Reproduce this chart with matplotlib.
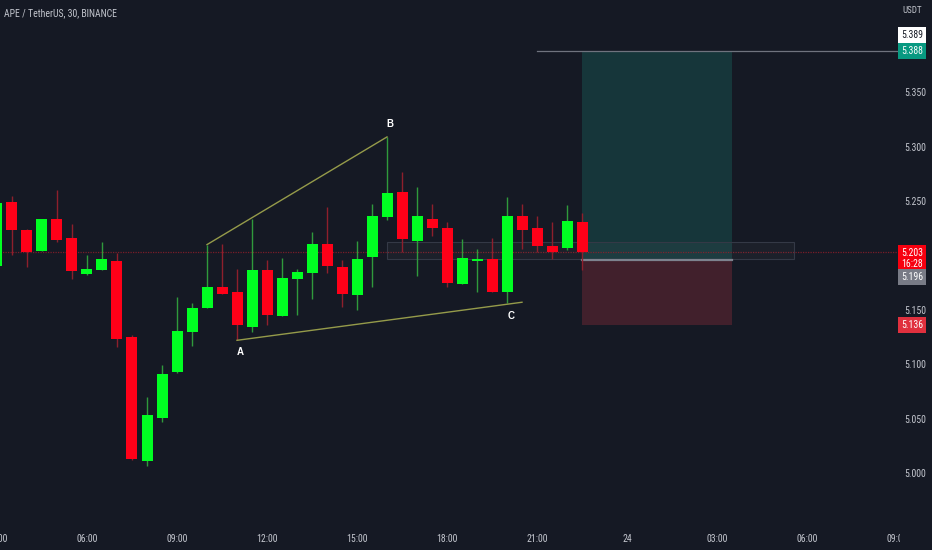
import matplotlib
matplotlib.use('Agg')
import os
import matplotlib.pyplot as plt
from matplotlib import font_manager as fm
from matplotlib.patches import Rectangle
from matplotlib.transforms import blended_transform_factory, Bbox

# ---------------- data ----------------
times = ['03:00', '03:30', '04:00', '04:30', '05:00', '05:30', '06:00', '06:30',
         '07:00', '07:30', '08:00', '08:30', '09:00', '09:30', '10:00', '10:30',
         '11:00', '11:30', '12:00', '12:30', '13:00', '13:30', '14:00', '14:30',
         '15:00', '15:30', '16:00', '16:30', '17:00', '17:30', '18:00', '18:30',
         '19:00', '19:30', '20:00', '20:30', '21:00', '21:30', '22:00', '22:30']
opens = [5.190, 5.249, 5.223, 5.204, 5.234, 5.216, 5.183, 5.187, 5.195, 5.125,
         5.011, 5.051, 5.093, 5.130, 5.152, 5.171, 5.166, 5.134, 5.187, 5.144,
         5.178, 5.184, 5.211, 5.189, 5.164, 5.199, 5.235, 5.258, 5.213, 5.234,
         5.225, 5.174, 5.195, 5.197, 5.166, 5.236, 5.225, 5.209, 5.207, 5.231]
highs = [5.251, 5.255, 5.224, 5.234, 5.260, 5.229, 5.200, 5.212, 5.202, 5.127,
         5.070, 5.099, 5.162, 5.156, 5.210, 5.211, 5.188, 5.234, 5.196, 5.198,
         5.188, 5.222, 5.245, 5.196, 5.213, 5.247, 5.309, 5.277, 5.263, 5.247,
         5.231, 5.215, 5.206, 5.216, 5.254, 5.247, 5.236, 5.231, 5.246, 5.239]
lows = [5.187, 5.200, 5.189, 5.204, 5.212, 5.178, 5.182, 5.187, 5.116, 5.012,
        5.006, 5.047, 5.092, 5.117, 5.152, 5.165, 5.122, 5.130, 5.136, 5.144,
        5.145, 5.160, 5.184, 5.153, 5.150, 5.171, 5.233, 5.203, 5.181, 5.218,
        5.171, 5.174, 5.166, 5.166, 5.156, 5.206, 5.203, 5.197, 5.205, 5.187]
closes = [5.248, 5.223, 5.203, 5.234, 5.214, 5.186, 5.188, 5.197, 5.123, 5.013,
          5.053, 5.091, 5.131, 5.152, 5.171, 5.165, 5.136, 5.187, 5.145, 5.179,
          5.185, 5.211, 5.190, 5.165, 5.197, 5.236, 5.257, 5.215, 5.236, 5.225,
          5.175, 5.198, 5.197, 5.166, 5.236, 5.223, 5.209, 5.203, 5.232, 5.203]

price_ticks = [5.000, 5.050, 5.100, 5.150, 5.200, 5.250, 5.300, 5.350]
price_tick_labels = ['5.000', '5.050', '5.100', '5.150', '', '5.250', '5.300', '5.350']
time_tick_hours = [3, 6, 9, 12, 15, 18, 21, 24, 27, 30, 33]
time_tick_labels = ['03:00', '06:00', '09:00', '12:00', '15:00', '18:00', '21:00',
                    '24', '03:00', '06:00', '09:00']

# pattern (hours, price)
upper_line_t = [10.0, 16.0]
upper_line_p = [5.210, 5.309]
lower_line_t = [11.0, 20.5]
lower_line_p = [5.122, 5.157]
point_labels = ['A', 'B', 'C']
point_label_t = [11.1, 16.1, 20.13]
point_label_p = [5.111, 5.321, 5.144]

# position tool
pos_start, pos_end = 22.5, 27.5
target_price = 5.388
entry_price = 5.196
stop_price = 5.136
last_price = 5.203
zone_t = [16.0, 29.55]
zone_p = [5.197, 5.212]
target_line_start = 21.0

# ---------------- fonts ----------------
def pick_condensed():
    prefs = ['LiberationSansNarrow-Regular', 'RobotoCondensed-Regular',
             'DejaVuSansCondensed.', 'NotoSans-Condensed.', 'OpenSans-CondensedRegular',
             'OpenSans_Condensed-Regular']
    files = [f.fname for f in fm.fontManager.ttflist]
    for p in prefs:
        for f in files:
            if p.lower() in os.path.basename(f).lower():
                return f
    return None


cond_file = pick_condensed()
if cond_file:
    def FP(size, bold=False):
        return fm.FontProperties(fname=cond_file, size=size)
    SZ = 7.0
else:
    def FP(size, bold=False):
        return fm.FontProperties(family=['Liberation Sans', 'DejaVu Sans'], size=size * 0.9,
                                 weight='bold' if bold else 'normal')
    SZ = 7.0

# ---------------- style ----------------
BG = '#151924'
TXT = '#c3c6ce'
UP = '#00ff22'
DOWN = '#ff0018'
UP_WICK = '#2f9a3c'
DOWN_WICK = '#8e1f2c'

W, H, DPI = 932, 550, 100
fig = plt.figure(figsize=(W / DPI, H / DPI), dpi=DPI, facecolor=BG)
ax_w_px, ax_h_px = 885, 522
ax = fig.add_axes([0, (H - ax_h_px) / H, ax_w_px / W, ax_h_px / H], facecolor=BG)


def hour(s):
    h, m = s.split(':')
    return int(h) + int(m) / 60.0


t = [hour(s) for s in times]
PX_PER_H = 30.0           # 15 px per 30-minute candle
PX_PER_UNIT = 1087.6      # pixels per 1.0 USDT
t_left = 6 - 87 / PX_PER_H
ax.set_xlim(t_left, t_left + ax_w_px / PX_PER_H)
p_top = 5 + 473 / PX_PER_UNIT
ax.set_ylim(p_top - ax_h_px / PX_PER_UNIT, p_top)

# ---------------- position tool ----------------
ax.add_patch(Rectangle((pos_start, entry_price), pos_end - pos_start, target_price - entry_price,
                       facecolor='#16363a', edgecolor='none', zorder=1))
ax.add_patch(Rectangle((pos_start, stop_price), pos_end - pos_start, entry_price - stop_price,
                       facecolor='#41202c', edgecolor='none', zorder=1))
ax.plot([pos_start, pos_end], [entry_price, entry_price], color='#7d828e', lw=1.6, zorder=2)
ax.add_patch(Rectangle((zone_t[0], zone_p[0]), zone_t[1] - zone_t[0], zone_p[1] - zone_p[0],
                       facecolor='#ffffff', alpha=0.03, edgecolor='none', zorder=1.5))
ax.add_patch(Rectangle((zone_t[0], zone_p[0]), zone_t[1] - zone_t[0], zone_p[1] - zone_p[0],
                       facecolor='none', edgecolor='#343946', lw=0.8, zorder=1.5))

x_label_end = t_left + 898 / PX_PER_H
ax.plot([target_line_start, x_label_end], [target_price, target_price], color='#6f737e',
        lw=0.9, zorder=2, clip_on=False)
ax.plot([t_left, x_label_end], [last_price, last_price], color='#7a1c28', lw=0.9,
        ls=(0, (1, 1)), zorder=1.2, clip_on=False)

# ---------------- candles ----------------
for ti, o, hi, lo, c in zip(t, opens, highs, lows, closes):
    up = c >= o
    ax.vlines(ti, lo, hi, color=UP_WICK if up else DOWN_WICK, lw=1.0, zorder=3)
    bottom = min(o, c)
    height = max(abs(c - o), 0.0018)
    ax.bar(ti, height, bottom=bottom, width=11 / PX_PER_H, color=UP if up else DOWN,
           edgecolor='none', zorder=4)

# ---------------- pattern ----------------
ax.plot(upper_line_t, upper_line_p, color='#959b4a', lw=1.0, zorder=5)
ax.plot(lower_line_t, lower_line_p, color='#959b4a', lw=1.0, zorder=5)
for lab, lt, lp in zip(point_labels, point_label_t, point_label_p):
    ax.text(lt, lp, lab, color='white', fontsize=7, fontweight='bold', ha='center',
            va='center', zorder=6, family=['Liberation Sans', 'DejaVu Sans'])

# ---------------- axes ----------------
for s in ax.spines.values():
    s.set_visible(False)
ax.yaxis.tick_right()
ax.set_yticks(price_ticks)
ax.set_yticklabels(price_tick_labels)
ax.tick_params(axis='y', length=0, pad=14, labelcolor=TXT)
for lbl in ax.get_yticklabels():
    lbl.set_fontproperties(FP(SZ))

xlo, xhi = ax.get_xlim()
in_ticks = [(h, l) for h, l in zip(time_tick_hours, time_tick_labels) if xlo <= h <= xhi]
ax.set_xticks([h for h, _ in in_ticks])
ax.set_xticklabels([l for _, l in in_ticks])
ax.tick_params(axis='x', length=0, pad=9, labelcolor=TXT)
for lbl in ax.get_xticklabels():
    lbl.set_fontproperties(FP(SZ))
bt = blended_transform_factory(ax.transData, ax.transAxes)
for h, l in zip(time_tick_hours, time_tick_labels):
    if not (xlo <= h <= xhi):
        tx = ax.text(h, -12.5 / ax_h_px, l, transform=bt, ha='center', va='top',
                     fontproperties=FP(SZ), color=TXT, clip_on=True)
        tx.set_clip_box(Bbox([[0, 0], [900, H]]))

# ---------------- price-scale labels ----------------
lt = blended_transform_factory(ax.transAxes, ax.transData)
xc = 912 / ax_w_px
ax.text(xc, p_top - 10 / PX_PER_UNIT, 'USDT', transform=lt, ha='center', va='center',
        fontproperties=FP(6.5), color=TXT, clip_on=False)


def price_box(p, s, fc, tc):
    ax.text(xc, p, s, transform=lt, ha='center', va='center', fontproperties=FP(SZ),
            color=tc, clip_on=False, linespacing=1.1, zorder=10,
            bbox=dict(boxstyle='square,pad=0.3', fc=fc, ec='none'))


price_box(target_price + 16 / PX_PER_UNIT, '5.389', '#ffffff', '#131722')
price_box(target_price, '5.388', '#089981', '#ffffff')
price_box(last_price - 6.5 / PX_PER_UNIT, '5.203\n16:28', '#f7000f', '#ffffff')
price_box(entry_price - 17 / PX_PER_UNIT, '5.196', '#787b86', '#ffffff')
price_box(stop_price, '5.136', '#e0303e', '#ffffff')

# ---------------- title ----------------
fig.text(4 / W, 1 - 13 / H, 'APE / TetherUS, 30, BINANCE', ha='left', va='center',
         fontproperties=FP(SZ), color=TXT)

fig.savefig('out.png', dpi=DPI, facecolor=BG)
